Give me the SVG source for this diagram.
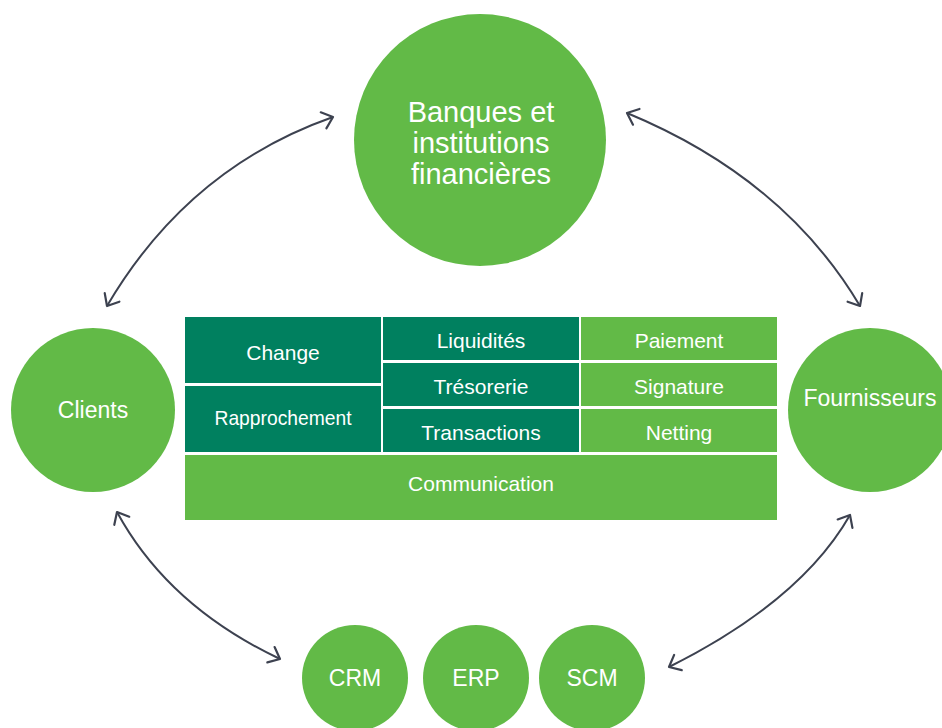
<svg xmlns="http://www.w3.org/2000/svg" width="942" height="728" viewBox="0 0 942 728">
  <defs>
    <marker id="arr" markerUnits="userSpaceOnUse" viewBox="-13 -11 15 22" refX="0" refY="0" markerWidth="15" markerHeight="22" orient="auto-start-reverse">
      <path d="M -10,-8.5 L 0,0 L -10,8.5" fill="none" stroke="#3d4250" stroke-width="2.2" stroke-linecap="round" stroke-linejoin="round"/>
    </marker>
    <style>
      .lg { fill: #62ba47; }
      .dk { fill: #00805f; }
      .t { fill: #ffffff; font-family: "Liberation Sans", Arial, sans-serif; text-anchor: middle; }
      .cell { font-size: 21px; }
      .big { font-size: 23px; }
      .top { font-size: 29px; }
      .conn { fill: none; stroke: #3d4250; stroke-width: 2; marker-start: url(#arr); marker-end: url(#arr); }
    </style>
  </defs>
  <rect width="942" height="728" fill="#ffffff"/>

  <g id="connectors">
    <path class="conn" d="M 107,306 Q 188,168 333,117"/>
    <path class="conn" d="M 627,113 Q 784,178 860,306"/>
    <path class="conn" d="M 117,512 Q 168,606 280,659"/>
    <path class="conn" d="M 850,515 Q 801,601 669,667"/>
  </g>

  <g id="banques">
    <circle class="lg" cx="480" cy="140" r="126"/>
    <text class="t top" x="481" y="122">Banques et</text>
    <text class="t top" x="481" y="153">institutions</text>
    <text class="t top" x="481" y="184">financières</text>
  </g>

  <g id="clients">
    <circle class="lg" cx="93" cy="410" r="82"/>
    <text class="t big" x="93" y="418">Clients</text>
  </g>

  <g id="fournisseurs">
    <circle class="lg" cx="870" cy="410" r="82"/>
    <text class="t big" x="870" y="406">Fournisseurs</text>
  </g>

  <g id="crm">
    <circle class="lg" cx="355" cy="678" r="53"/>
    <text class="t big" x="355" y="686">CRM</text>
  </g>
  <g id="erp">
    <circle class="lg" cx="476" cy="678" r="53"/>
    <text class="t big" x="476" y="686">ERP</text>
  </g>
  <g id="scm">
    <circle class="lg" cx="592" cy="678" r="53"/>
    <text class="t big" x="592" y="686">SCM</text>
  </g>

  <g id="change">
    <rect class="dk" x="185" y="317" width="196" height="66"/>
    <text class="t cell" x="283" y="360">Change</text>
  </g>
  <g id="rapprochement">
    <rect class="dk" x="185" y="386" width="196" height="66"/>
    <text class="t cell" x="283" y="425" textLength="137" lengthAdjust="spacingAndGlyphs">Rapprochement</text>
  </g>
  <g id="liquidites">
    <rect class="dk" x="383" y="317" width="196" height="43"/>
    <text class="t cell" x="481" y="348">Liquidités</text>
  </g>
  <g id="tresorerie">
    <rect class="dk" x="383" y="363" width="196" height="43"/>
    <text class="t cell" x="481" y="394">Trésorerie</text>
  </g>
  <g id="transactions">
    <rect class="dk" x="383" y="409" width="196" height="43"/>
    <text class="t cell" x="481" y="440">Transactions</text>
  </g>
  <g id="paiement">
    <rect class="lg" x="581" y="317" width="196" height="43"/>
    <text class="t cell" x="679" y="348">Paiement</text>
  </g>
  <g id="signature">
    <rect class="lg" x="581" y="363" width="196" height="43"/>
    <text class="t cell" x="679" y="394">Signature</text>
  </g>
  <g id="netting">
    <rect class="lg" x="581" y="409" width="196" height="43"/>
    <text class="t cell" x="679" y="440">Netting</text>
  </g>
  <g id="communication">
    <rect class="lg" x="185" y="455" width="592" height="65"/>
    <text class="t cell" x="481" y="491">Communication</text>
  </g>
</svg>
